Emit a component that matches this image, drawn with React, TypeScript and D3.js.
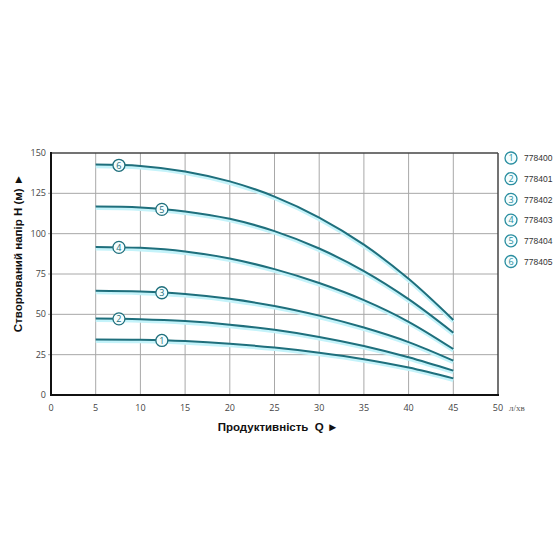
import { useEffect, useRef } from 'react';
import * as d3 from 'd3';

// Flow rate points (л/хв) and head values (м)
const flow = [5, 10, 15, 20, 25, 30, 35, 40, 45];
const head1 = [34.4, 34.2, 33.4, 31.8, 29.4, 26.2, 22.2, 17.0, 10.3];
const head2 = [47.4, 47.0, 45.8, 43.6, 40.4, 36.0, 30.4, 23.4, 15.1];
const head3 = [64.6, 64.1, 62.6, 59.6, 55.2, 49.2, 41.8, 32.8, 21.3];
const head4 = [91.8, 91.2, 89.0, 84.6, 78.0, 69.4, 58.8, 45.4, 28.5];
const head5 = [116.8, 116.2, 113.8, 109.2, 101.6, 90.8, 76.8, 59.4, 38.6];
const head6 = [142.8, 142.0, 138.6, 132.4, 123.0, 110.0, 93.2, 72.0, 46.5];
const curves = [head1, head2, head3, head4, head5, head6];

// where the numbered badge sits along each curve
const badgeFlow = [12.4, 7.6, 12.4, 7.6, 12.4, 7.6];

const models = ['778400', '778401', '778402', '778403', '778404', '778405'];
const xTicks = [0, 5, 10, 15, 20, 25, 30, 35, 40, 45, 50];
const yTicks = [0, 25, 50, 75, 100, 125, 150];

const LINE = '#1f6f7c';
const GLOW = '#c4f3fa';

const App = () => {
  const ref = useRef<SVGSVGElement>(null);

  useEffect(() => {
    const svg = d3.select(ref.current);
    svg.selectAll('*').remove();

    const margin = { top: 153, left: 51, right: 62, bottom: 165 };
    const width = 560 - margin.left - margin.right;
    const height = 560 - margin.top - margin.bottom;

    const x = d3.scaleLinear().domain([0, 50]).range([0, width]);
    const y = d3.scaleLinear().domain([0, 150]).range([height, 0]);

    const g = svg.append('g').attr('transform', `translate(${margin.left},${margin.top})`);

    // grid
    g.append('g')
      .selectAll('line')
      .data(xTicks.slice(1, -1))
      .enter()
      .append('line')
      .attr('x1', (d) => x(d))
      .attr('x2', (d) => x(d))
      .attr('y1', 0)
      .attr('y2', height)
      .attr('stroke', '#a8a8a8')
      .attr('stroke-width', 1);

    g.append('g')
      .selectAll('line')
      .data(yTicks.slice(1, -1))
      .enter()
      .append('line')
      .attr('x1', -3)
      .attr('x2', width)
      .attr('y1', (d) => y(d))
      .attr('y2', (d) => y(d))
      .attr('stroke', '#a8a8a8')
      .attr('stroke-width', 1);

    // frame: top/right thinner, left/bottom heavy
    g.append('line').attr('x1', 0).attr('x2', width).attr('y1', 0).attr('y2', 0)
      .attr('stroke', '#444').attr('stroke-width', 1.5);
    g.append('line').attr('x1', width).attr('x2', width).attr('y1', 0).attr('y2', height)
      .attr('stroke', '#444').attr('stroke-width', 1.5);
    g.append('line').attr('x1', 0).attr('x2', 0).attr('y1', -1).attr('y2', height + 1)
      .attr('stroke', '#111').attr('stroke-width', 2);
    g.append('line').attr('x1', -1).attr('x2', width + 1).attr('y1', height).attr('y2', height)
      .attr('stroke', '#111').attr('stroke-width', 2);

    // tick labels
    g.append('g')
      .selectAll('text')
      .data(xTicks)
      .enter()
      .append('text')
      .attr('x', (d) => x(d))
      .attr('y', height + 16)
      .attr('text-anchor', 'middle')
      .style('font-family', '"Open Sans", sans-serif')
      .style('font-size', '9px')
      .attr('fill', '#444')
      .text((d) => d);

    g.append('g')
      .selectAll('text')
      .data(yTicks)
      .enter()
      .append('text')
      .attr('x', -5)
      .attr('y', (d) => y(d) + 3)
      .attr('text-anchor', 'end')
      .style('font-family', '"Open Sans", sans-serif')
      .style('font-size', '9px')
      .attr('fill', '#444')
      .text((d) => d);

    g.append('text')
      .attr('x', width + 11)
      .attr('y', height + 16)
      .style('font-family', '"Liberation Serif", serif')
      .style('font-size', '9px')
      .attr('fill', '#555')
      .text('л/хв');

    // curves
    const line = d3.line<number>()
      .x((_, i) => x(flow[i]))
      .y((d) => y(d))
      .curve(d3.curveCatmullRom.alpha(0.5));

    curves.forEach((c) => {
      g.append('path')
        .datum(c)
        .attr('d', line)
        .attr('fill', 'none')
        .attr('stroke', GLOW)
        .attr('stroke-width', 3.5)
        .attr('transform', 'translate(0,1.8)');
    });
    curves.forEach((c) => {
      g.append('path')
        .datum(c)
        .attr('d', line)
        .attr('fill', 'none')
        .attr('stroke', LINE)
        .attr('stroke-width', 2);
    });

    // numbered badges on the curves
    const interp = (c: number[], q: number) => {
      const i = d3.bisectRight(flow, q) - 1;
      const t = (q - flow[i]) / (flow[i + 1] - flow[i]);
      return c[i] + t * (c[i + 1] - c[i]);
    };

    const badge = (parent: d3.Selection<SVGGElement, unknown, null, undefined>, cx: number, cy: number, n: number) => {
      parent.append('circle')
        .attr('cx', cx)
        .attr('cy', cy)
        .attr('r', 6)
        .attr('fill', '#f4fdfe')
        .attr('stroke', LINE)
        .attr('stroke-width', 1.3);
      parent.append('text')
        .attr('x', cx)
        .attr('y', cy + 3.3)
        .attr('text-anchor', 'middle')
        .style('font-family', '"Open Sans", sans-serif')
        .style('font-size', '9px')
        .attr('fill', LINE)
        .text(n);
    };

    curves.forEach((c, i) => {
      badge(g, x(badgeFlow[i]), y(interp(c, badgeFlow[i])), i + 1);
    });

    // legend
    const legend = svg.append('g').attr('transform', 'translate(511,158)');
    models.forEach((m, i) => {
      const row = legend.append('g').attr('transform', `translate(0,${i * 20.7})`);
      row.append('circle')
        .attr('r', 6)
        .attr('fill', '#f4fdfe')
        .attr('stroke', '#2a8ea0')
        .attr('stroke-width', 1.3);
      row.append('text')
        .attr('y', 3.3)
        .attr('text-anchor', 'middle')
        .style('font-family', '"Open Sans", sans-serif')
        .style('font-size', '9px')
        .attr('fill', '#2a8ea0')
        .text(i + 1);
      row.append('text')
        .attr('x', 13)
        .attr('y', 3.2)
        .style('font-family', '"Liberation Sans", sans-serif')
        .style('font-size', '8.5px')
        .attr('fill', '#333')
        .text(m);
    });

    // axis titles
    svg.append('text')
      .attr('transform', 'translate(22,253) rotate(-90)')
      .attr('text-anchor', 'middle')
      .style('font-family', '"Liberation Sans", sans-serif')
      .style('font-weight', 'bold')
      .style('font-size', '11.5px')
      .attr('fill', '#111')
      .text('Створюваний напір H (м) ►');

    svg.append('text')
      .attr('x', 278)
      .attr('y', 431)
      .attr('text-anchor', 'middle')
      .style('font-family', '"Liberation Sans", sans-serif')
      .style('font-weight', 'bold')
      .style('font-size', '11.5px')
      .style('white-space', 'pre')
      .attr('fill', '#111')
      .text('Продуктивність  Q ►');
  }, []);

  return (
    <div style={{ position: 'absolute', top: 0, left: 0 }}>
      <svg ref={ref} width={560} height={560} style={{ display: 'block', background: '#fff' }}></svg>
    </div>
  );
};

export default App;
